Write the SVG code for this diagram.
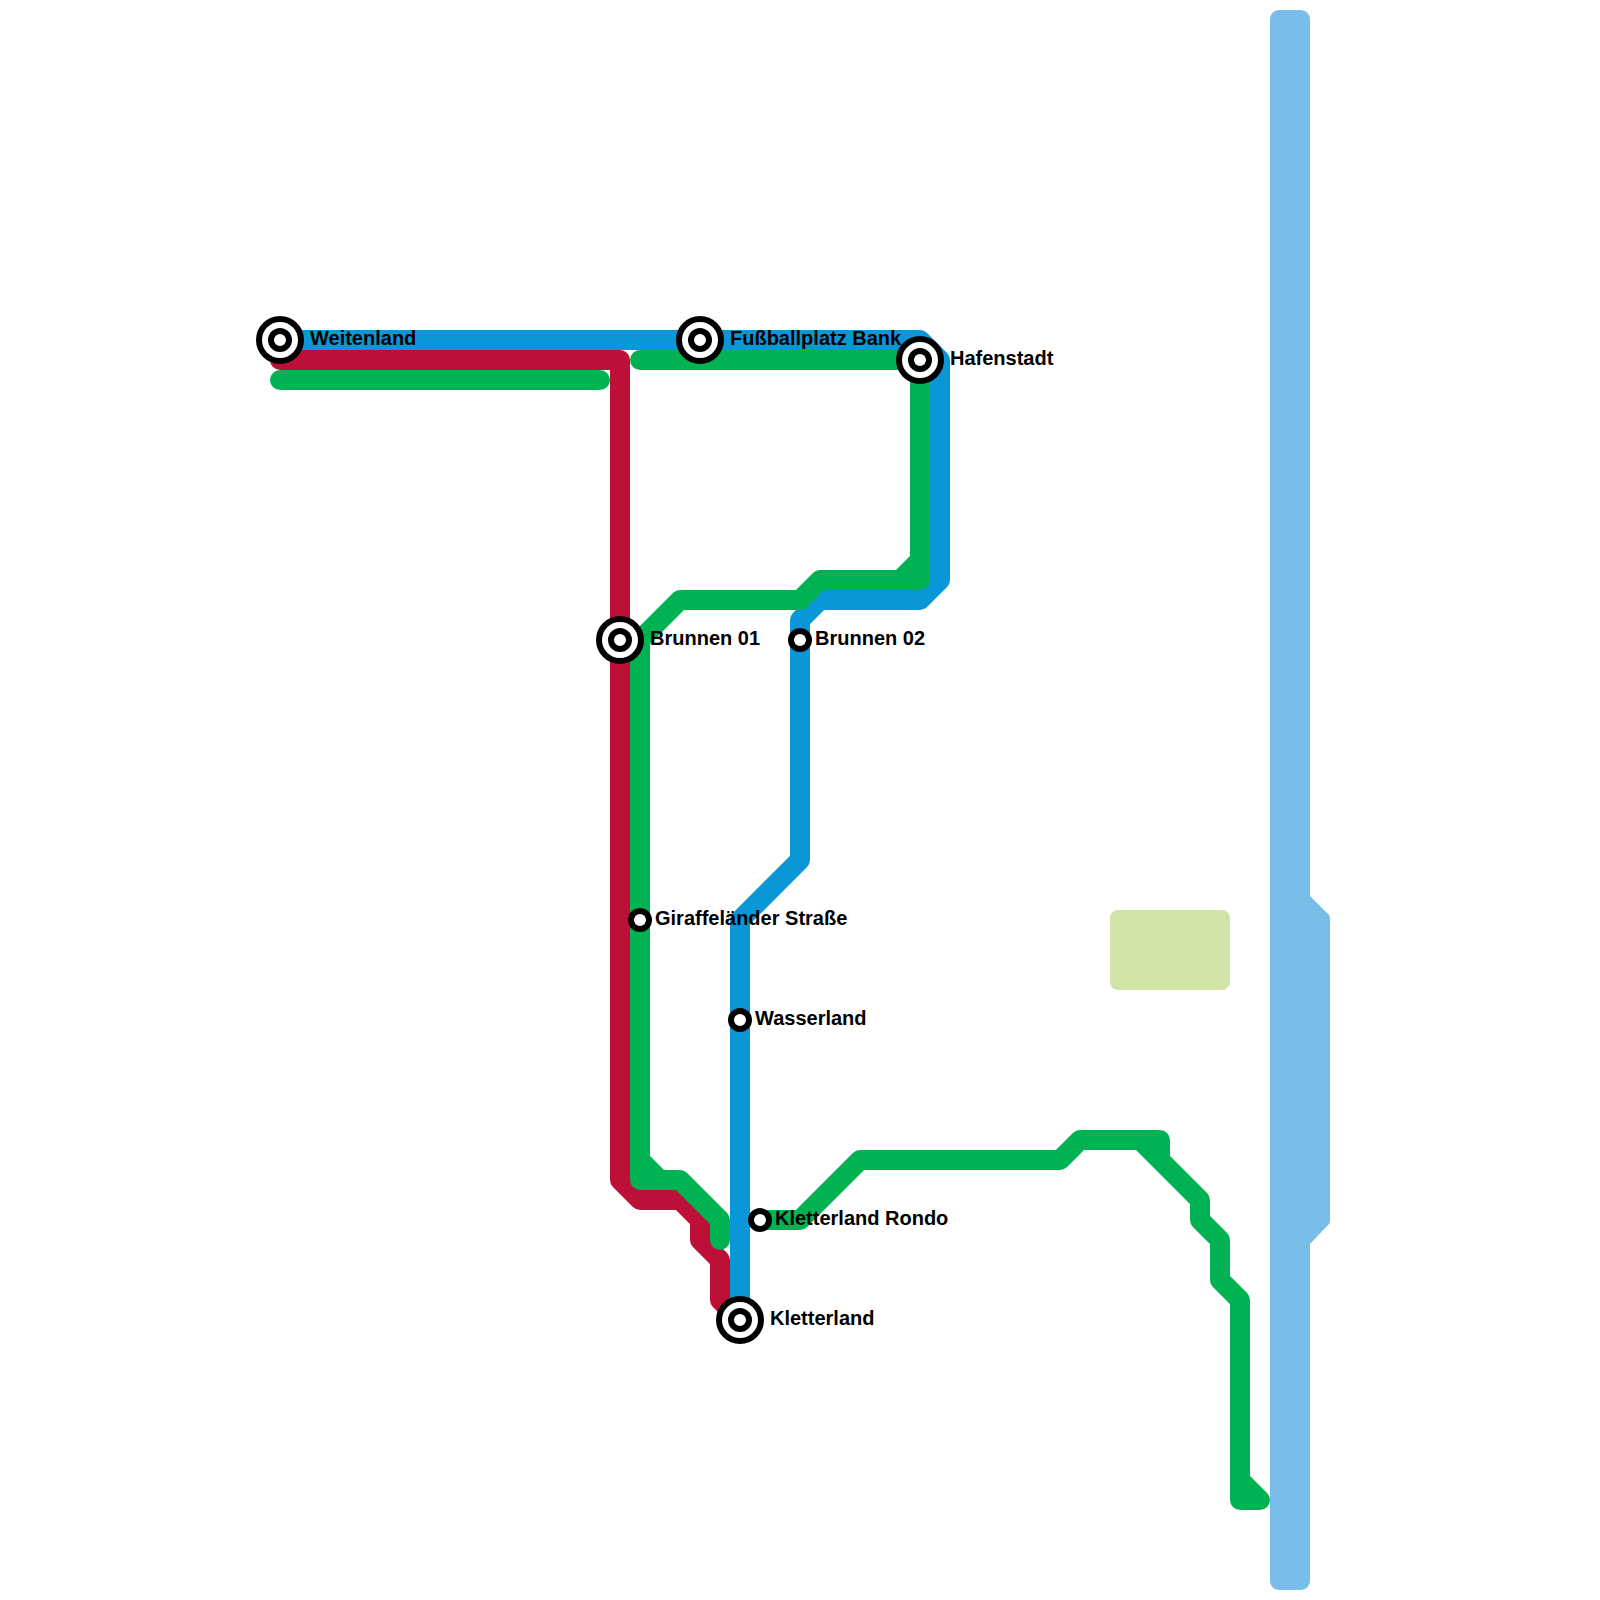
<svg xmlns="http://www.w3.org/2000/svg" width="1600" height="1600" viewBox="0 0 1600 1600">
<style>
.line{fill:none;stroke-width:20;stroke-linecap:round;stroke-linejoin:round}
.red{stroke:#BD1038}.blue{stroke:#0997D8}.green{stroke:#00B251}
.ring{fill:#fff;stroke:#000;stroke-width:6}
text{font-family:"Liberation Sans",Arial,sans-serif;font-weight:700;font-size:20px;fill:#000}
</style>
<defs>
<g id="term"><circle r="21" class="ring"/><circle r="9" class="ring"/></g>
<circle id="stop" r="9" class="ring"/>
</defs>
<g id="scenery">
<rect id="water" x="1270" y="10" width="40" height="1580" rx="9" fill="#79BDE9"/>
<path id="water-bump" d="M1310 896L1329 915Q1330 916 1330 918V1221Q1330 1223 1329 1224L1310 1244Z" fill="#79BDE9"/>
<rect id="park" x="1110" y="910" width="120" height="80" rx="8" fill="#D0E4A7"/>
</g>
<g id="connectors">
<path class="line red" d="M280 360H620V1180L640 1200H680L700 1220V1240L720 1260V1300L740 1320"/>
<path class="line blue" d="M280 340H920L940 360V580L920 600H820L800 620V860L740 920V1320"/>
<path class="line green" d="M280 380H600"/>
<path class="line green" d="M640 360H920V580H900L920 560M900 580H820L800 600H680L640 640V1180H680L720 1220V1240M640 1160L660 1180"/>
<path class="line green" d="M760 1220H800L860 1160H1060L1080 1140H1160V1160M1140 1140L1200 1200V1220L1220 1240V1280L1240 1300V1500H1260L1240 1480"/>
</g>
<g id="weitenland"><use href="#term" x="280" y="340"/><text x="310" y="345">Weitenland</text></g>
<g id="fussballplatz-bank"><use href="#term" x="700" y="340"/><text x="730" y="345">Fußballplatz Bank</text></g>
<g id="hafenstadt"><use href="#term" x="920" y="360"/><text x="950" y="365">Hafenstadt</text></g>
<g id="brunnen-01"><use href="#term" x="620" y="640"/><text x="650" y="645">Brunnen 01</text></g>
<g id="brunnen-02"><use href="#stop" x="800" y="640"/><text x="815" y="645">Brunnen 02</text></g>
<g id="giraffelaender-strasse"><use href="#stop" x="640" y="920"/><text x="655" y="925">Giraffeländer Straße</text></g>
<g id="wasserland"><use href="#stop" x="740" y="1020"/><text x="755" y="1025">Wasserland</text></g>
<g id="kletterland-rondo"><use href="#stop" x="760" y="1220"/><text x="775" y="1225">Kletterland Rondo</text></g>
<g id="kletterland"><use href="#term" x="740" y="1320"/><text x="770" y="1325">Kletterland</text></g>
</svg>
